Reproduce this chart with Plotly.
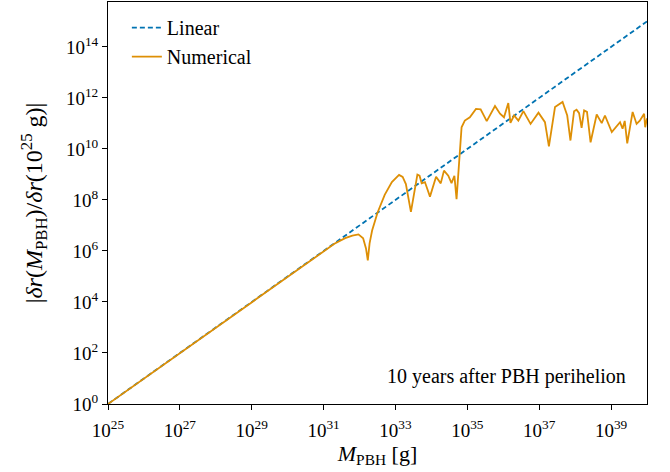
import plotly.graph_objects as go

# Linear scaling line (log10 M, log10 ratio)
lin_logm = [25, 40]
lin_logy = [0, 15]

# Numerical curve (log10 M, log10 ratio)
num_logm = [25, 26, 27, 28, 29, 30, 31, 31.3, 31.6, 31.8, 31.97, 32.1, 32.18, 32.23,
            32.28, 32.35, 32.5, 32.7, 32.9, 33.1, 33.2, 33.29, 33.43, 33.61, 33.67,
            33.73, 33.82, 33.96, 34.13, 34.26, 34.35, 34.47, 34.56, 34.64, 34.7,
            34.8, 34.84, 34.93, 35.07, 35.24, 35.37, 35.54, 35.77, 35.91, 36.02,
            36.14, 36.2, 36.3, 36.42, 36.56, 36.76, 36.98, 37.16, 37.27, 37.44,
            37.65, 37.78, 37.87, 37.97, 38.04, 38.11, 38.18, 38.25, 38.33, 38.43,
            38.6, 38.74, 38.83, 39.02, 39.25, 39.32, 39.38, 39.45, 39.6, 39.71,
            39.8, 39.92, 39.95, 40.0]
num_logy = [0, 1, 2, 3, 4, 5, 6, 6.28, 6.5, 6.6, 6.65, 6.5, 6.1, 5.63,
            6.3, 6.8, 7.5, 8.2, 8.7, 8.98, 8.9, 8.62, 7.53, 8.99, 8.95,
            8.65, 8.7, 8.13, 8.91, 8.65, 9.15, 8.95, 8.66, 8.95, 8.03,
            9.93, 10.85, 11.11, 11.24, 11.57, 11.55, 11.09, 11.68, 11.38, 11.24,
            11.8, 11.02, 11.31, 11.11, 11.48, 10.98, 11.42, 11.05, 10.1, 11.64,
            11.84, 11.31, 10.33, 11.48, 11.54, 11.4, 10.83, 11.51, 11.45, 10.26,
            11.35, 11.01, 11.31, 10.66, 11.05, 10.79, 11.1, 10.22, 11.45, 10.98,
            11.11, 11.38, 10.85, 11.2]

x_tick_exp = [25, 27, 29, 31, 33, 35, 37, 39]
y_tick_exp = [0, 2, 4, 6, 8, 10, 12, 14]

lin_x = [10.0 ** v for v in lin_logm]
lin_y = [10.0 ** v for v in lin_logy]
num_x = [10.0 ** v for v in num_logm]
num_y = [10.0 ** v for v in num_logy]

FONT = "Liberation Serif, DejaVu Serif, serif"

fig = go.Figure()
fig.add_trace(go.Scatter(x=lin_x, y=lin_y, mode="lines", name="Linear",
                         line=dict(color="#0173b2", width=1.8, dash="5px,3px")))
fig.add_trace(go.Scatter(x=num_x, y=num_y, mode="lines", name="Numerical",
                         line=dict(color="#de8f05", width=1.8)))

axis_common = dict(type="log", showgrid=False, zeroline=False, showline=True,
                   linecolor="black", linewidth=1, mirror=True, ticks="outside",
                   ticklen=5, tickcolor="black", tickfont=dict(family=FONT, size=19, color="black"))

fig.update_xaxes(**axis_common, range=[25, 40], ticklabelstandoff=4,
                 tickvals=[10.0 ** e for e in x_tick_exp],
                 ticktext=[f"10<sup>{e}</sup>" for e in x_tick_exp],
                 title=dict(text="<i>M</i><sub>PBH</sub> [g]", font=dict(family=FONT, size=22, color="black"),
                            standoff=2))
fig.update_yaxes(**axis_common, range=[0, 15.76],
                 tickvals=[10.0 ** e for e in y_tick_exp],
                 ticktext=[f"10<sup>{e}</sup>" for e in y_tick_exp],
                 title=dict(text="|<i>δr</i>(<i>M</i><sub>PBH</sub>)/<i>δr</i>(10<sup>25</sup> g)|",
                            font=dict(family=FONT, size=24, color="black"), standoff=16))

fig.add_annotation(x=0.965, y=0.035, xref="paper", yref="paper", xanchor="right", yanchor="bottom",
                   text="10 years after PBH perihelion", showarrow=False,
                   font=dict(family=FONT, size=20, color="black"))

fig.update_layout(width=670, height=472, margin=dict(l=108, r=23, t=2, b=68),
                  plot_bgcolor="white", paper_bgcolor="white",
                  legend=dict(x=0.035, y=0.985, xanchor="left", yanchor="top",
                              font=dict(family=FONT, size=20, color="black"),
                              bgcolor="rgba(255,255,255,0)", tracegroupgap=2))

fig.write_html("out.html")
